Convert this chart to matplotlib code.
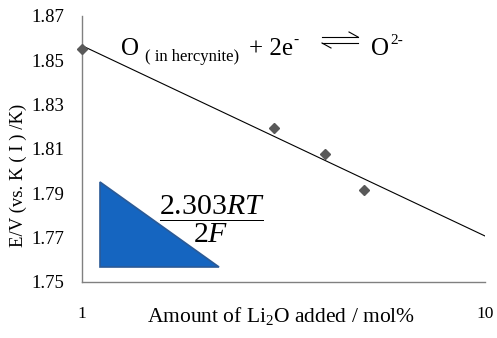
import numpy as np
import matplotlib
matplotlib.use("Agg")
import matplotlib.pyplot as plt
from matplotlib.patches import Polygon
from matplotlib.lines import Line2D

# data
li2o_mol = [1, 3, 4, 5]
potential = [1.855, 1.8195, 1.8078, 1.7915]
y_ticks = [1.75, 1.77, 1.79, 1.81, 1.83, 1.85, 1.87]
x_ticks = [1, 10]

plt.rcParams['font.family'] = ['Liberation Serif', 'DejaVu Serif']
plt.rcParams['mathtext.fontset'] = 'custom'
plt.rcParams['mathtext.rm'] = 'Liberation Serif'
plt.rcParams['mathtext.it'] = 'Liberation Serif:italic'
plt.rcParams['mathtext.bf'] = 'Liberation Serif:bold'

W, H = 497, 338
fig = plt.figure(figsize=(W / 100, H / 100), dpi=100)
ax = fig.add_axes([82 / W, 1 - 282 / H, (485 - 82) / W, (282 - 16) / H])


def px(x, y):
    # pixel position (from top-left) -> figure fraction
    return x / W, 1 - y / H


# log trendline (least squares in log10 x)
slope, icpt = np.polyfit(np.log10(li2o_mol), potential, 1)
xf = np.array([1, 10])
ax.plot(xf, icpt + slope * np.log10(xf), color='black', lw=0.8, zorder=2)
ax.plot(li2o_mol, potential, 'D', color='#595959', ms=5, zorder=3, clip_on=False)

ax.set_xscale('log')
ax.set_xlim(1, 10)
ax.set_ylim(1.75, 1.87)
ax.set_xticks(x_ticks)
ax.set_xticklabels(['1', '10'])
ax.minorticks_off()
ax.set_yticks(y_ticks)
ax.set_yticklabels([f'{v:.2f}' for v in y_ticks])
ax.tick_params(axis='y', length=0, pad=13, labelsize=13.5)
ax.tick_params(axis='x', length=0, pad=17, labelsize=12.5)

for s in ['top', 'right']:
    ax.spines[s].set_visible(False)
for s in ['left', 'bottom']:
    ax.spines[s].set_color('#808080')
    ax.spines[s].set_linewidth(1)

fig.text(*px(281, 316), r'Amount of Li$_2$O added / mol%', fontsize=15.5,
         ha='center', va='center')
fig.text(*px(18, 175), 'E/V (vs. K ( I ) /K)', fontsize=13.5, rotation=90,
         ha='center', va='center')

# reaction text, built from pieces
big = 18
fig.text(*px(121, 55), 'O', fontsize=big, va='baseline')
fig.text(*px(145, 61), '( in hercynite)', fontsize=12, va='baseline')
fig.text(*px(249, 55), '+ 2e', fontsize=big, va='baseline')
fig.text(*px(293, 44), '-', fontsize=11, va='baseline')
fig.text(*px(371, 55), 'O', fontsize=big, va='baseline')
fig.text(*px(390, 44), '2-', fontsize=11, va='baseline')
arrow_kw = dict(color='black', lw=0.8, transform=fig.transFigure)
for xs, ys in [([322, 358], [37, 37]), ([358, 349], [37, 32]),
               ([322, 358], [43, 43]), ([322, 331], [43, 48])]:
    fig.lines.append(Line2D([x / W for x in xs], [1 - y / H for y in ys], **arrow_kw))

# slope triangle and fraction
tri = Polygon([px(100, 182), px(100, 267), px(219, 267)],
              closed=True, transform=fig.transFigure, facecolor='#1565C0',
              edgecolor='#2B5A96', lw=1.2, zorder=1)
fig.patches.append(tri)
fig.text(*px(212, 219), r'$\dfrac{2.303RT}{2F}$', fontsize=21.5,
         ha='center', va='center')

fig.savefig('out.png', dpi=100)
